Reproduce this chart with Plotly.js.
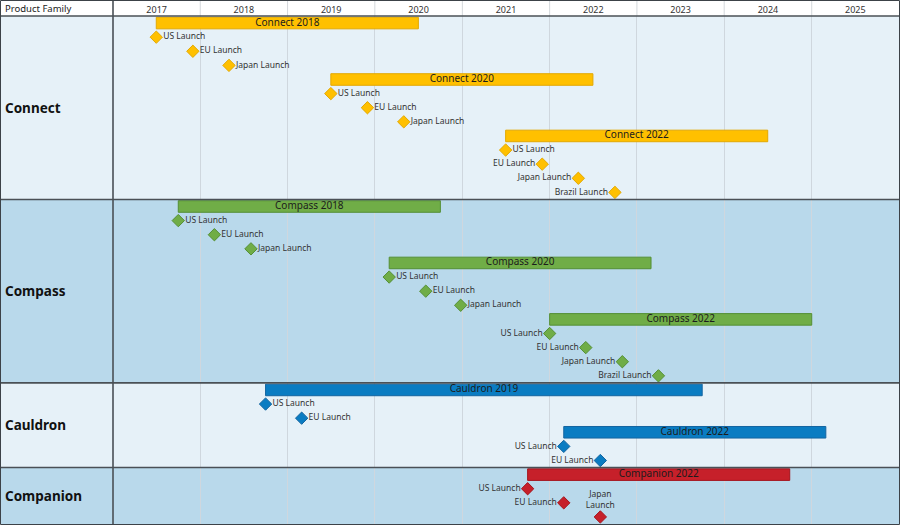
<!DOCTYPE html>
<html><head><meta charset="utf-8">
<script src="https://cdn.plot.ly/plotly-3.0.1.min.js"></script>
<style>html,body{margin:0;padding:0;background:#fff}#chart{width:900px;height:525px}</style>
</head><body><div id="chart"></div>
<script>
// ---------------- DATA ----------------
const families = ['Connect', 'Compass', 'Cauldron', 'Companion'];
const projectNames = ['Connect 2018', 'Connect 2020', 'Connect 2022', 'Compass 2018', 'Compass 2020', 'Compass 2022', 'Cauldron 2019', 'Cauldron 2022', 'Companion 2022'];
const projectFamily = ['Connect', 'Connect', 'Connect', 'Compass', 'Compass', 'Compass', 'Cauldron', 'Cauldron', 'Companion'];
const projectStart = ['2017-07-01', '2019-07-01', '2021-07-01', '2017-10-01', '2020-03-01', '2022-01-01', '2018-10-01', '2022-03-01', '2021-10-01'];
const projectEnd = ['2020-07-01', '2022-07-01', '2024-07-01', '2020-10-01', '2023-03-01', '2025-01-01', '2023-10-01', '2025-03-01', '2024-10-01'];

const launchProject = [
  'Connect 2018', 'Connect 2018', 'Connect 2018',
  'Connect 2020', 'Connect 2020', 'Connect 2020',
  'Connect 2022', 'Connect 2022', 'Connect 2022', 'Connect 2022',
  'Compass 2018', 'Compass 2018', 'Compass 2018',
  'Compass 2020', 'Compass 2020', 'Compass 2020',
  'Compass 2022', 'Compass 2022', 'Compass 2022', 'Compass 2022',
  'Cauldron 2019', 'Cauldron 2019',
  'Cauldron 2022', 'Cauldron 2022',
  'Companion 2022', 'Companion 2022', 'Companion 2022'];
const launchName = [
  'US Launch', 'EU Launch', 'Japan Launch',
  'US Launch', 'EU Launch', 'Japan Launch',
  'US Launch', 'EU Launch', 'Japan Launch', 'Brazil Launch',
  'US Launch', 'EU Launch', 'Japan Launch',
  'US Launch', 'EU Launch', 'Japan Launch',
  'US Launch', 'EU Launch', 'Japan Launch', 'Brazil Launch',
  'US Launch', 'EU Launch',
  'US Launch', 'EU Launch',
  'US Launch', 'EU Launch', 'Japan Launch'];
const launchDate = [
  '2017-07-01', '2017-12-01', '2018-05-01',
  '2019-07-01', '2019-12-01', '2020-05-01',
  '2021-07-01', '2021-12-01', '2022-05-01', '2022-10-01',
  '2017-10-01', '2018-03-01', '2018-08-01',
  '2020-03-01', '2020-08-01', '2020-12-25',
  '2022-01-01', '2022-06-01', '2022-11-01', '2023-04-01',
  '2018-10-01', '2019-03-01',
  '2022-03-01', '2022-08-01',
  '2021-10-01', '2022-03-01', '2022-08-01'];
const yearLabels = ['2017', '2018', '2019', '2020', '2021', '2022', '2023', '2024', '2025'];

// ---------------- STYLE ----------------
const labelSide = [
  'middle right', 'middle right', 'middle right',
  'middle right', 'middle right', 'middle right',
  'middle right', 'middle left', 'middle left', 'middle left',
  'middle right', 'middle right', 'middle right',
  'middle right', 'middle right', 'middle right',
  'middle left', 'middle left', 'middle left', 'middle left',
  'middle right', 'middle right',
  'middle left', 'middle left',
  'middle left', 'middle left', 'top center'];
const famFill = {Connect: '#FFC000', Compass: '#70AD47', Cauldron: '#0A7CC2', Companion: '#C6202A'};
const famLine = {Connect: '#E3A800', Compass: '#548F35', Cauldron: '#1465A0', Companion: '#A5141C'};
const rowBg = ['#E6F1F8', '#B9D9EB'];
const FONT = 'Noto Sans, Open Sans, sans-serif';
const L = 113, T = 16, W = 786, H = 508;
const px = v => (v - L) / W;          // pixel x -> paper x
const py = v => 1 - (v - T) / H;      // pixel y -> paper y

// ---------------- SLOTS ----------------
let slot = 0;
const famStart = {}, famEnd = {};
const barY = [], launchY = new Array(launchName.length);
families.forEach(f => {
  famStart[f] = slot;
  projectNames.forEach((p, i) => {
    if (projectFamily[i] !== f) return;
    barY[i] = slot++;
    launchProject.forEach((lp, j) => { if (lp === p) launchY[j] = slot++; });
  });
  famEnd[f] = slot - 1;
});
const nSlots = slot;

// ---------------- TRACES ----------------
const traces = [];
families.forEach(f => {
  const idx = projectNames.map((p, i) => i).filter(i => projectFamily[i] === f);
  traces.push({
    type: 'bar', orientation: 'h',
    y: idx.map(i => barY[i]),
    base: idx.map(i => projectStart[i]),
    x: idx.map(i => Date.parse(projectEnd[i]) - Date.parse(projectStart[i])),
    width: 0.82,
    marker: {color: famFill[f], line: {color: famLine[f], width: 1}},
    hoverinfo: 'skip'
  });
  traces.push({
    type: 'scatter', mode: 'text',
    y: idx.map(i => barY[i]),
    x: idx.map(i => new Date((Date.parse(projectStart[i]) + Date.parse(projectEnd[i])) / 2).toISOString()),
    text: idx.map(i => projectNames[i]),
    textposition: 'middle center',
    textfont: {family: FONT, size: 10, color: '#1c1c1c'},
    hoverinfo: 'skip'
  });
  const lidx = launchName.map((n, j) => j).filter(j => projectFamily[projectNames.indexOf(launchProject[j])] === f);
  traces.push({
    type: 'scatter', mode: 'markers+text',
    y: lidx.map(j => launchY[j]),
    x: lidx.map(j => launchDate[j]),
    text: lidx.map(j => labelSide[j] === 'top center' ? launchName[j].replace(' ', '<br>') : launchName[j]),
    textposition: lidx.map(j => labelSide[j]),
    textfont: {family: FONT, size: 8.5, color: '#333'},
    marker: {symbol: 'diamond', size: 9.5, color: famFill[f], line: {color: famLine[f], width: 1}},
    cliponaxis: false,
    hoverinfo: 'skip'
  });
});

// ---------------- SHAPES / ANNOTATIONS ----------------
const shapes = [];
const annotations = [];
families.forEach((f, k) => {
  const y0 = py(T + famStart[f] * H / nSlots), y1 = py(T + (famEnd[f] + 1) * H / nSlots);
  shapes.push({type: 'rect', layer: 'below', xref: 'paper', yref: 'paper', x0: px(0), x1: 1, y0: y1, y1: y0,
    fillcolor: rowBg[k % 2], line: {width: 0}});
  if (k > 0) shapes.push({type: 'line', layer: 'above', xref: 'paper', yref: 'paper', x0: px(0), x1: 1, y0: y0, y1: y0,
    line: {color: '#4a5056', width: 1.6}});
  annotations.push({xref: 'paper', yref: 'y', x: px(3), y: (famStart[f] + famEnd[f]) / 2, xanchor: 'left', yanchor: 'middle',
    text: '<b>' + f + '</b>', showarrow: false, font: {family: FONT, size: 13.5, color: '#111'}});
});
// header separators
yearLabels.slice(1).forEach(yl => {
  shapes.push({type: 'line', layer: 'above', xref: 'x', yref: 'paper', x0: yl + '-01-01', x1: yl + '-01-01', y0: 1, y1: py(0),
    line: {color: '#d4d8dc', width: 1}});
});
// header bottom line, left column line, outer border
shapes.push({type: 'line', layer: 'above', xref: 'paper', yref: 'paper', x0: px(0), x1: 1, y0: 1, y1: 1, line: {color: '#4a5056', width: 1.6}});
shapes.push({type: 'line', layer: 'above', xref: 'paper', yref: 'paper', x0: 0, x1: 0, y0: py(525), y1: py(0), line: {color: '#4a5056', width: 1.6}});
shapes.push({type: 'rect', layer: 'above', xref: 'paper', yref: 'paper', x0: px(0.5), x1: px(899.5), y0: py(524.5), y1: py(0.5), line: {color: '#3c4248', width: 1}});
annotations.push({xref: 'paper', yref: 'paper', x: px(3), y: py(8), xanchor: 'left', yanchor: 'middle',
  text: 'Product Family', showarrow: false, font: {family: FONT, size: 9.5, color: '#222'}});

const layout = {
  width: 900, height: 525,
  margin: {l: L, r: 900 - L - W, t: T, b: 525 - T - H, pad: 0},
  paper_bgcolor: '#ffffff', plot_bgcolor: 'rgba(0,0,0,0)',
  showlegend: false, hovermode: false, barmode: 'overlay',
  xaxis: {type: 'date', range: [yearLabels[0] + '-01-01', (+yearLabels[yearLabels.length - 1] + 1) + '-01-01'],
    side: 'top', dtick: 'M12', tick0: yearLabels[0] + '-01-01', ticklabelmode: 'period', tickformat: '%Y',
    showgrid: true, gridcolor: '#cfd7de', gridwidth: 1, ticks: '', showline: false, zeroline: false,
    tickfont: {family: FONT, size: 9, color: '#333'}, fixedrange: true},
  yaxis: {range: [nSlots - 0.5, -0.5], showgrid: false, zeroline: false, showticklabels: false, ticks: '', showline: false, fixedrange: true},
  shapes: shapes, annotations: annotations,
  font: {family: FONT}
};
Plotly.newPlot('chart', traces, layout, {staticPlot: true, displayModeBar: false});
</script>
</body></html>
